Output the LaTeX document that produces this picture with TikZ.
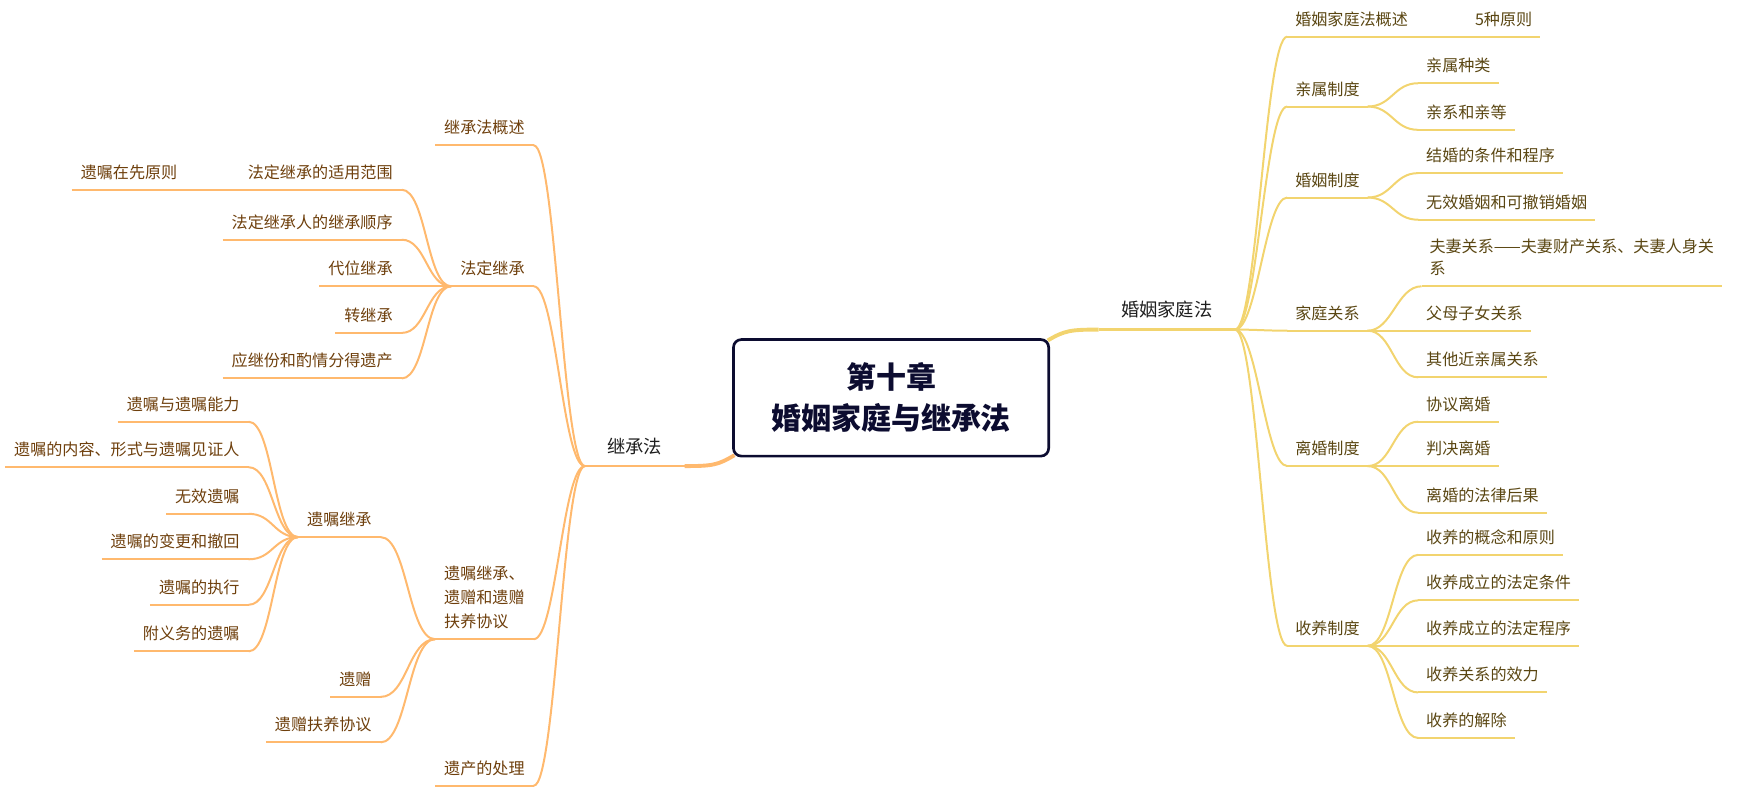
\documentclass[tikz,border=0pt]{standalone}
\usepackage{fontspec}
\setmainfont{Noto Sans CJK SC}
\definecolor{ylw}{HTML}{F2D46F}
\definecolor{org}{HTML}{FFB96E}
\definecolor{rtxt}{HTML}{5A4612}
\definecolor{ltxt}{HTML}{6E3F0C}
\definecolor{navy}{HTML}{0C0C30}
\definecolor{mtxt}{HTML}{1E1E1E}
\newcommand{\xra}{1160}
\newcommand{\xrb}{1278}
\newcommand{\xla}{481}
\newcommand{\xlb}{362}
\newcommand{\xlc}{343}
\newcommand{\xld}{224}

\begin{document}
\begin{tikzpicture}[x=1pt, y=-1pt,
    title/.style={draw=navy, line width=2.4pt, rounded corners=7pt, minimum width=284pt, minimum height=105pt, align=center, text=navy, font=\bfseries\fontsize{27}{37}\selectfont},
    main/.style={inner xsep=20pt, inner ysep=10pt, text=mtxt, font=\fontsize{16.5}{20}\selectfont},
    rt/.style={anchor=south west, inner xsep=7pt, inner ysep=9pt, align=left, text=rtxt, font=\fontsize{14.5}{20}\selectfont,
        append after command={(\tikzlastnode.south west) edge[draw=ylw, line width=1.8pt] (\tikzlastnode.south east)}},
    lt/.style={anchor=south east, inner xsep=8pt, inner ysep=9pt, align=left, text=ltxt, font=\fontsize{14.5}{21.5}\selectfont,
        append after command={(\tikzlastnode.south west) edge[draw=org, line width=1.8pt] (\tikzlastnode.south east)}},
    yl/.style={draw=ylw, line width=1.8pt},
    ol/.style={draw=org, line width=1.8pt}]
    \useasboundingbox (0,0) rectangle (1568,715.5);

    % Centre
    \node[title] (title) at (803,358.5) {第十章\\婚姻家庭与继承法};
    \node[main, anchor=south west] (hyjt) at (990,297) {婚姻家庭法};
    \node[main, anchor=south east] (jcf) at (617,420) {继承法};

    % Right side
    \node[rt] (gs) at (\xra,33) {婚姻家庭法概述};
    \node[rt] (qs) at (\xra,96) {亲属制度};
    \node[rt] (hy) at (\xra,178) {婚姻制度};
    \node[rt] (jt) at (\xra,298) {家庭关系};
    \node[rt] (lh) at (\xra,420) {离婚制度};
    \node[rt] (sy) at (\xra,582) {收养制度};

    \node[rt] (gs1) at (1322,33) {5种原则};
    \node[rt] (qs1) at (\xrb,75) {亲属种类};
    \node[rt] (qs2) at (\xrb,117) {亲系和亲等};
    \node[rt] (hy1) at (\xrb,156) {结婚的条件和程序};
    \node[rt] (hy2) at (\xrb,198) {无效婚姻和可撤销婚姻};
    \node[rt] (jt1) at (1281,258) {夫妻关系——夫妻财产关系、夫妻人身关\\系};
    \node[rt] (jt2) at (\xrb,298) {父母子女关系};
    \node[rt] (jt3) at (\xrb,340) {其他近亲属关系};
    \node[rt] (lh1) at (\xrb,380) {协议离婚};
    \node[rt] (lh2) at (\xrb,420) {判决离婚};
    \node[rt] (lh3) at (\xrb,462) {离婚的法律后果};
    \node[rt] (sy1) at (\xrb,500) {收养的概念和原则};
    \node[rt] (sy2) at (\xrb,541) {收养成立的法定条件};
    \node[rt] (sy3) at (\xrb,582) {收养成立的法定程序};
    \node[rt] (sy4) at (\xrb,624) {收养关系的效力};
    \node[rt] (sy5) at (\xrb,665) {收养的解除};

    % Left side
    \node[lt] (jg) at (\xla,131) {继承法概述};
    \node[lt] (fd) at (\xla,258) {法定继承};
    \node[lt] (yz) at (\xla,576) {遗嘱继承、\\遗赠和遗赠\\扶养协议};
    \node[lt] (yc) at (\xla,708) {遗产的处理};

    \node[lt] (fd1) at (\xlb,171) {法定继承的适用范围};
    \node[lt] (fd0) at (168,171) {遗嘱在先原则};
    \node[lt] (fd2) at (\xlb,216) {法定继承人的继承顺序};
    \node[lt] (fd3) at (\xlb,258) {代位继承};
    \node[lt] (fd4) at (\xlb,300) {转继承};
    \node[lt] (fd5) at (\xlb,341) {应继份和酌情分得遗产};

    \node[lt] (yj) at (\xlc,484) {遗嘱继承};
    \node[lt] (yzz) at (\xlc,628) {遗赠};
    \node[lt] (yzx) at (\xlc,669) {遗赠扶养协议};

    \node[lt] (yj1) at (\xld,380) {遗嘱与遗嘱能力};
    \node[lt] (yj2) at (\xld,421) {遗嘱的内容、形式与遗嘱见证人};
    \node[lt] (yj3) at (\xld,463) {无效遗嘱};
    \node[lt] (yj4) at (\xld,504) {遗嘱的变更和撤回};
    \node[lt] (yj5) at (\xld,545) {遗嘱的执行};
    \node[lt] (yj6) at (\xld,587) {附义务的遗嘱};

    % Main branches
    \draw[yl, line width=3.5pt] ([xshift=-2pt,yshift=-2pt]title.north east) .. controls +(15,-9) and +(-25,0) .. (hyjt.south west);
    \draw[yl, line width=2.4pt] (hyjt.south west) -- (hyjt.south east);
    \draw[ol, line width=3.5pt] ([xshift=2pt,yshift=2pt]title.south west) .. controls +(-15,9) and +(25,0) .. (jcf.south east);
    \draw[ol, line width=2.4pt] (jcf.south east) -- (jcf.south west);

    % Right connectors
    \draw[yl] (hyjt.south east) .. controls +(20,0) and +(-20,0) .. (gs.south west);
    \draw[yl] (hyjt.south east) .. controls +(20,0) and +(-20,0) .. (qs.south west);
    \draw[yl] (hyjt.south east) .. controls +(20,0) and +(-20,0) .. (hy.south west);
    \draw[yl] (hyjt.south east) .. controls +(20,0) and +(-20,0) .. (jt.south west);
    \draw[yl] (hyjt.south east) .. controls +(20,0) and +(-20,0) .. (lh.south west);
    \draw[yl] (hyjt.south east) .. controls +(20,0) and +(-20,0) .. (sy.south west);

    \draw[yl] (gs.south east) -- (gs1.south west);
    \draw[yl] (qs.south east) .. controls +(22,0) and +(-22,0) .. (qs1.south west);
    \draw[yl] (qs.south east) .. controls +(22,0) and +(-22,0) .. (qs2.south west);
    \draw[yl] (hy.south east) .. controls +(22,0) and +(-22,0) .. (hy1.south west);
    \draw[yl] (hy.south east) .. controls +(22,0) and +(-22,0) .. (hy2.south west);
    \draw[yl] (jt.south east) .. controls +(22,0) and +(-22,0) .. (jt1.south west);
    \draw[yl] (jt.south east) -- (jt2.south west);
    \draw[yl] (jt.south east) .. controls +(22,0) and +(-22,0) .. (jt3.south west);
    \draw[yl] (lh.south east) .. controls +(22,0) and +(-22,0) .. (lh1.south west);
    \draw[yl] (lh.south east) -- (lh2.south west);
    \draw[yl] (lh.south east) .. controls +(22,0) and +(-22,0) .. (lh3.south west);
    \draw[yl] (sy.south east) .. controls +(22,0) and +(-22,0) .. (sy1.south west);
    \draw[yl] (sy.south east) .. controls +(22,0) and +(-22,0) .. (sy2.south west);
    \draw[yl] (sy.south east) -- (sy3.south west);
    \draw[yl] (sy.south east) .. controls +(22,0) and +(-22,0) .. (sy4.south west);
    \draw[yl] (sy.south east) .. controls +(22,0) and +(-22,0) .. (sy5.south west);

    % Left connectors
    \draw[ol] (jcf.south west) .. controls +(-20,0) and +(20,0) .. (jg.south east);
    \draw[ol] (jcf.south west) .. controls +(-20,0) and +(20,0) .. (fd.south east);
    \draw[ol] (jcf.south west) .. controls +(-20,0) and +(20,0) .. (yz.south east);
    \draw[ol] (jcf.south west) .. controls +(-20,0) and +(20,0) .. (yc.south east);

    \draw[ol] (fd.south west) .. controls +(-22,0) and +(22,0) .. (fd1.south east);
    \draw[ol] (fd1.south west) -- (fd0.south east);
    \draw[ol] (fd.south west) .. controls +(-22,0) and +(22,0) .. (fd2.south east);
    \draw[ol] (fd.south west) -- (fd3.south east);
    \draw[ol] (fd.south west) .. controls +(-22,0) and +(22,0) .. (fd4.south east);
    \draw[ol] (fd.south west) .. controls +(-22,0) and +(22,0) .. (fd5.south east);

    \draw[ol] (yz.south west) .. controls +(-24,0) and +(24,0) .. (yj.south east);
    \draw[ol] (yz.south west) .. controls +(-24,0) and +(24,0) .. (yzz.south east);
    \draw[ol] (yz.south west) .. controls +(-24,0) and +(24,0) .. (yzx.south east);

    \draw[ol] (yj.south west) .. controls +(-22,0) and +(22,0) .. (yj1.south east);
    \draw[ol] (yj.south west) .. controls +(-22,0) and +(22,0) .. (yj2.south east);
    \draw[ol] (yj.south west) .. controls +(-22,0) and +(22,0) .. (yj3.south east);
    \draw[ol] (yj.south west) .. controls +(-22,0) and +(22,0) .. (yj4.south east);
    \draw[ol] (yj.south west) .. controls +(-22,0) and +(22,0) .. (yj5.south east);
    \draw[ol] (yj.south west) .. controls +(-22,0) and +(22,0) .. (yj6.south east);

\end{tikzpicture}
\end{document}
